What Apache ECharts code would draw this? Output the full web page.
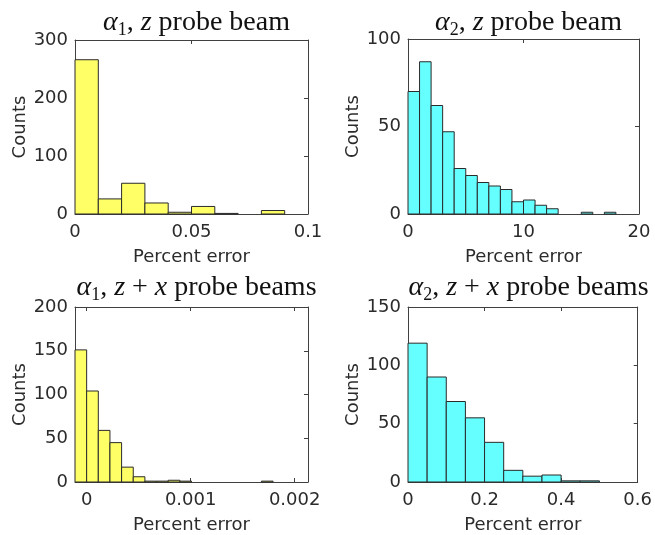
<!DOCTYPE html>
<html><head><meta charset="utf-8">
<script src="https://cdn.jsdelivr.net/npm/echarts@6/dist/echarts.min.js"></script>
<style>html,body{margin:0;padding:0;background:#fff}#c{width:655px;height:535px}</style>
</head><body><div id="c"></div>
<script>
// Panel 1: alpha1, z probe beam
const counts1 = [266, 26, 53, 19, 3, 13, 1, 0, 6, 0];
const binStart1 = 0, binWidth1 = 0.01;
const xRange1 = [0, 0.1], xTicks1 = [0, 0.05, 0.1];
const yRange1 = [0, 300], yTicks1 = [0, 100, 200, 300];
// Panel 2: alpha2, z probe beam
const counts2 = [70, 87, 62, 47, 26, 22, 18, 16, 14, 7, 8, 5, 3, 0, 0, 1, 0, 1, 0, 0];
const binStart2 = 0, binWidth2 = 1;
const xRange2 = [0, 20], xTicks2 = [0, 10, 20];
const yRange2 = [0, 100], yTicks2 = [0, 50, 100];
// Panel 3: alpha1, z + x probe beams
const counts3 = [151, 104, 59, 45, 17, 6, 1, 1, 2, 1, 0, 0, 0, 0, 0, 0, 1, 0, 0, 0];
const binStart3 = -0.000112, binWidth3 = 0.000112;
const xRange3 = [-0.000112, 0.002128], xTicks3 = [0, 0.001, 0.002];
const yRange3 = [0, 200], yTicks3 = [0, 50, 100, 150, 200];
// Panel 4: alpha2, z + x probe beams
const counts4 = [119, 90, 69, 55, 34, 10, 5, 6, 1, 1, 0, 0];
const binStart4 = 0, binWidth4 = 0.05;
const xRange4 = [0, 0.6], xTicks4 = [0, 0.2, 0.4, 0.6];
const yRange4 = [0, 150], yTicks4 = [0, 50, 100, 150];

const titles = [
  ['1', ' probe beam', false],
  ['2', ' probe beam', false],
  ['1', ' probe beams', true],
  ['2', ' probe beams', true]
];
const xLabel = 'Percent error', yLabel = 'Counts';

const panels = [
  {counts: counts1, start: binStart1, width: binWidth1, xr: xRange1, xt: xTicks1, yr: yRange1, yt: yTicks1, color: '#ffff66'},
  {counts: counts2, start: binStart2, width: binWidth2, xr: xRange2, xt: xTicks2, yr: yRange2, yt: yTicks2, color: '#66ffff'},
  {counts: counts3, start: binStart3, width: binWidth3, xr: xRange3, xt: xTicks3, yr: yRange3, yt: yTicks3, color: '#ffff66'},
  {counts: counts4, start: binStart4, width: binWidth4, xr: xRange4, xt: xTicks4, yr: yRange4, yt: yTicks4, color: '#66ffff'}
];

const grids = [
  {left: 75, top: 40, width: 233, height: 174},
  {left: 408, top: 39, width: 231, height: 175},
  {left: 75, top: 307, width: 233, height: 176},
  {left: 408, top: 307, width: 231, height: 176}
];

const axisColor = '#404040', textColor = '#2b2b2b', sans = 'DejaVu Sans', serif = 'Liberation Serif';
const xAxis = [], yAxis = [], series = [], title = [];

panels.forEach((p, i) => {
  const tickStyle = {show: true, inside: true, length: 4, lineStyle: {color: axisColor}, customValues: p.xt};
  const yTickStyle = {show: true, inside: true, length: 4, lineStyle: {color: axisColor}, customValues: p.yt};
  const line = {show: true, onZero: false, lineStyle: {color: axisColor, width: 1}};
  xAxis.push({type: 'value', gridIndex: i, position: 'bottom', min: p.xr[0], max: p.xr[1],
    axisLine: line, axisTick: tickStyle, splitLine: {show: false},
    axisLabel: {customValues: p.xt, color: textColor, fontFamily: sans, fontSize: 18, margin: 9},
    name: xLabel, nameLocation: 'middle', nameGap: 34,
    nameTextStyle: {color: textColor, fontFamily: sans, fontSize: 18}});
  xAxis.push({type: 'value', gridIndex: i, position: 'top', min: p.xr[0], max: p.xr[1],
    axisLine: line, axisTick: tickStyle, splitLine: {show: false}, axisLabel: {show: false}});
  yAxis.push({type: 'value', gridIndex: i, position: 'left', min: p.yr[0], max: p.yr[1],
    axisLine: line, axisTick: yTickStyle, splitLine: {show: false},
    axisLabel: {customValues: p.yt, color: textColor, fontFamily: sans, fontSize: 18, margin: 7},
    name: yLabel, nameLocation: 'middle', nameGap: 46,
    nameTextStyle: {color: textColor, fontFamily: sans, fontSize: 18}});
  yAxis.push({type: 'value', gridIndex: i, position: 'right', min: p.yr[0], max: p.yr[1],
    axisLine: line, axisTick: yTickStyle, splitLine: {show: false}, axisLabel: {show: false}});

  const data = p.counts.map((c, k) => [p.start + k * p.width, p.start + (k + 1) * p.width, c]);
  series.push({
    type: 'custom', xAxisIndex: 2 * i, yAxisIndex: 2 * i, data: data,
    encode: {x: [0, 1], y: 2},
    renderItem: function (params, api) {
      const c = api.value(2);
      if (!c) return null;
      const a = api.coord([api.value(0), 0]);
      const b = api.coord([api.value(1), c]);
      return {type: 'rect', shape: {x: a[0], y: b[1], width: b[0] - a[0], height: a[1] - b[1]},
        style: {fill: p.color, stroke: '#2a2a2a', lineWidth: 1}};
    }
  });

  const t = titles[i];
  const mid = t[2] ? '{r|, }{i|z}{r| + }{i|x}' : '{r|, }{i|z}';
  const g = grids[i];
  title.push({
    text: '{i|α}{s|' + t[0] + '}' + mid + '{r|' + t[1] + '}',
    left: g.left + g.width / 2, top: t[2] ? 267 : 2, textAlign: 'center',
    textStyle: {fontWeight: 'normal', rich: {
      r: {fontFamily: serif, fontSize: 28, fontWeight: 'normal', color: '#111', lineHeight: 32},
      i: {fontFamily: serif, fontSize: 28, fontWeight: 'normal', fontStyle: 'italic', color: '#111', lineHeight: 32},
      s: {fontFamily: serif, fontSize: 18, fontWeight: 'normal', color: '#111', lineHeight: 18, verticalAlign: 'bottom'}
    }}
  });
});

const chart = echarts.init(document.getElementById('c'), null, {renderer: 'canvas'});
chart.setOption({animation: false, backgroundColor: '#fff', title, grid: grids, xAxis, yAxis, series});
</script>
</body></html>
